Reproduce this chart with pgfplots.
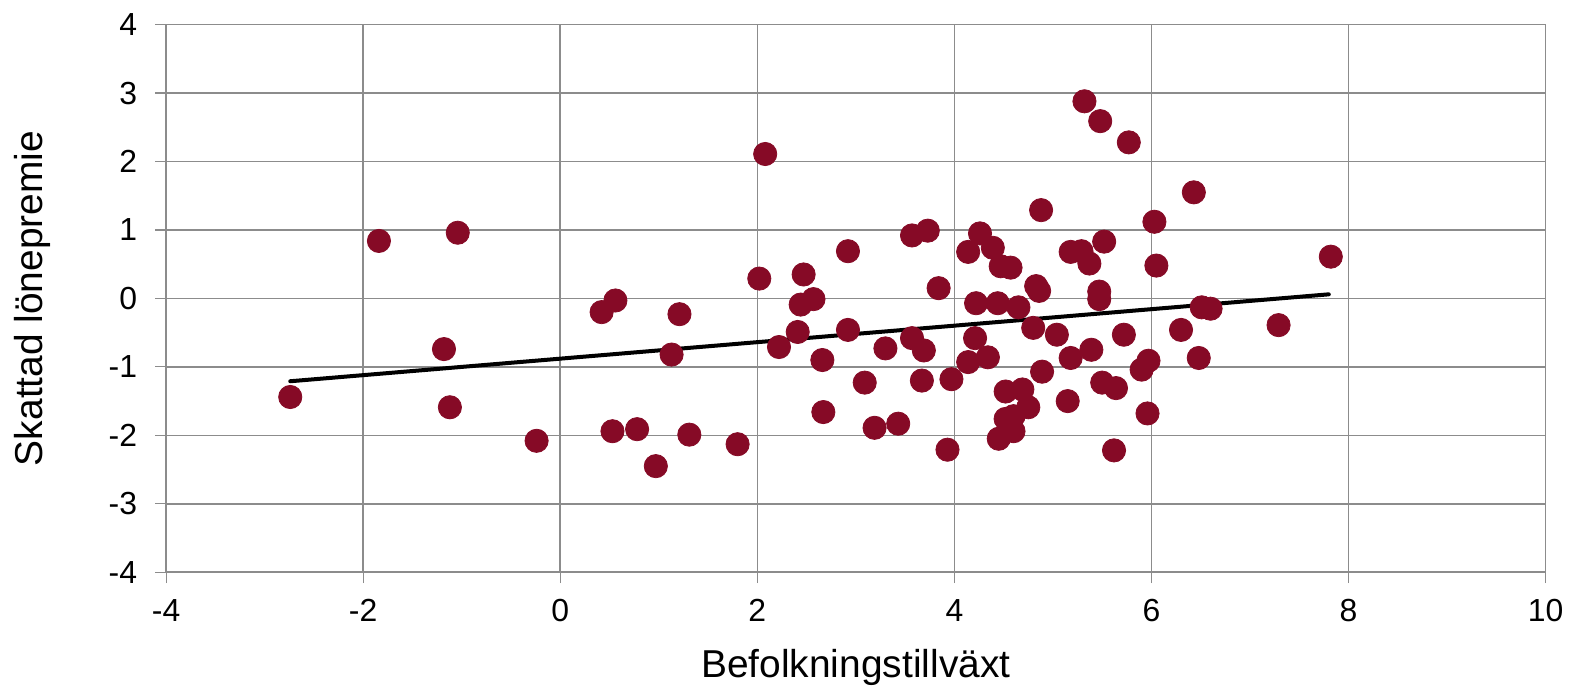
\documentclass[border=0pt]{standalone}
\usepackage{pgfplots}
\pgfplotsset{compat=1.18}
\usepackage{fontspec}
\setmainfont{Liberation Sans}
\definecolor{dotred}{RGB}{134,10,38}
\definecolor{gridgray}{RGB}{140,140,140}

\begin{document}
\begin{tikzpicture}
  \begin{axis}[
      scale only axis,
      width=689bp,
      height=273.5bp,
      xmin=-4, xmax=10,
      ymin=-4, ymax=4,
      xtick={-4,-2,...,10},
      ytick={-4,-3,...,4},
      grid=major,
      grid style={gridgray, line width=0.8bp},
      axis line style={gridgray, line width=0.8bp},
      tick style={gridgray, line width=0.6bp},
      tick align=outside,
      major tick length=5.5bp,
      xtick pos=bottom,
      ytick pos=left,
      /pgf/number format/assume math mode=true,
      ticklabel style={font=\fontsize{16}{19}\selectfont},
      xticklabel style={yshift=-4.5bp},
      yticklabel style={xshift=-5.5bp},
      xlabel={Befolkningstillväxt},
      ylabel={Skattad lönepremie},
      label style={font=\fontsize{19.5}{23}\selectfont},
      xlabel style={yshift=-7bp},
      ylabel style={yshift=22bp},
      clip=false,
    ]

    \addplot[only marks, mark=*, mark size=5.8bp, draw=dotred, fill=dotred] table {
      x y
      -2.74 -1.44
      -1.84 0.84
      -1.04 0.96
      -1.18 -0.74
      -1.12 -1.59
      -0.24 -2.08
      0.42 -0.20
      0.56 -0.03
      0.53 -1.94
      0.78 -1.91
      0.97 -2.45
      1.13 -0.82
      1.21 -0.23
      1.31 -1.99
      1.80 -2.13
      2.02 0.29
      2.08 2.11
      2.22 -0.71
      2.41 -0.49
      2.44 -0.09
      2.47 0.35
      2.57 -0.01
      2.66 -0.90
      2.67 -1.66
      2.92 0.69
      2.92 -0.46
      3.09 -1.23
      3.30 -0.73
      3.19 -1.89
      3.43 -1.83
      3.57 0.92
      3.57 -0.58
      3.73 0.99
      3.69 -0.76
      3.67 -1.20
      3.84 0.15
      3.93 -2.21
      3.97 -1.18
      5.32 2.88
      5.48 2.59
      5.77 2.28
      6.43 1.55
      4.88 1.29
      6.03 1.12
      4.26 0.95
      4.14 0.68
      4.39 0.74
      4.47 0.47
      4.57 0.45
      5.18 0.68
      5.29 0.69
      5.37 0.51
      5.52 0.83
      6.05 0.48
      7.82 0.61
      4.83 0.18
      4.86 0.11
      5.47 0.10
      5.47 -0.01
      4.22 -0.07
      4.44 -0.07
      4.65 -0.13
      6.51 -0.13
      6.60 -0.15
      4.80 -0.43
      5.04 -0.53
      5.72 -0.53
      6.30 -0.46
      7.29 -0.39
      4.21 -0.58
      4.14 -0.93
      4.34 -0.86
      5.18 -0.87
      5.39 -0.75
      5.97 -0.91
      5.90 -1.04
      6.48 -0.87
      4.89 -1.07
      4.52 -1.36
      4.69 -1.33
      4.75 -1.59
      5.50 -1.23
      5.64 -1.31
      5.15 -1.50
      5.96 -1.68
      4.52 -1.76
      4.60 -1.72
      4.60 -1.94
      4.45 -2.05
      5.62 -2.22
    };

    % trend line
    \addplot[black, line width=2bp, line cap=round] coordinates {
      (-2.74, -1.21)
      (7.80, 0.06)
    };

  \end{axis}
  % a little white margin round the picture
  \path ([xshift=-4bp]current bounding box.west)
        ([xshift=2bp, yshift=3.5bp]current bounding box.north east);
\end{tikzpicture}
\end{document}
